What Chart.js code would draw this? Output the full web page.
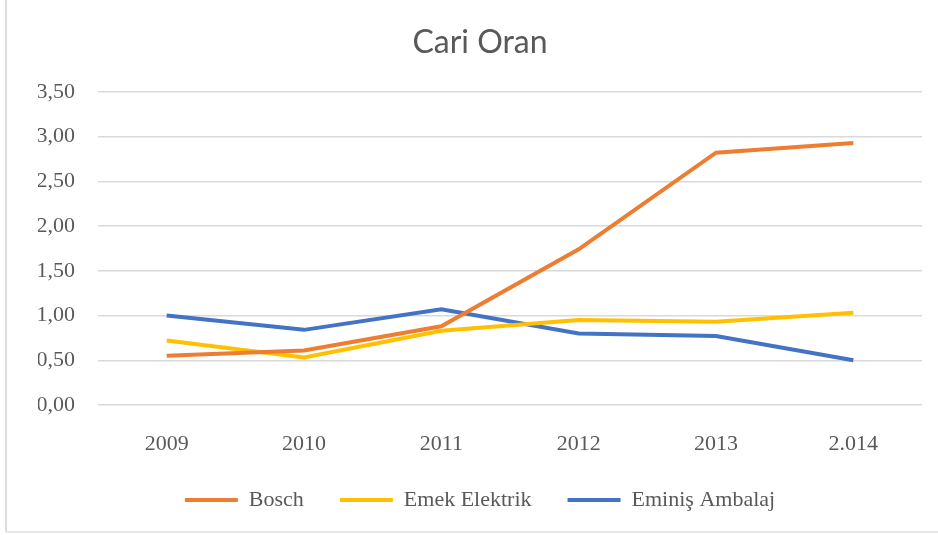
<!DOCTYPE html>
<html>
<head>
<meta charset="utf-8">
<script src="https://cdn.jsdelivr.net/npm/chart.js@4.4.1/dist/chart.umd.min.js"></script>
<style>
  html, body { margin: 0; padding: 0; background: #fff; }
  #wrap { position: relative; width: 938px; height: 535px; }
  #c { position: absolute; left: 0; top: 0; }
  #edgeL { position: absolute; left: 5px; top: 0; width: 2px; height: 533px; background: #dcdcdc; }
  #edgeB { position: absolute; left: 5px; top: 531px; width: 933px; height: 2px; background: #e8e8e8; }
</style>
</head>
<body>
<div id="wrap">
  <canvas id="c" width="938" height="535"></canvas>
  <div id="edgeL"></div>
  <div id="edgeB"></div>
</div>
<script>
const years = ["2009", "2010", "2011", "2012", "2013", "2.014"];
const bosch = [0.55, 0.61, 0.88, 1.74, 2.82, 2.93];
const emekElektrik = [0.72, 0.53, 0.83, 0.95, 0.93, 1.03];
const eminisAmbalaj = [1.00, 0.84, 1.07, 0.80, 0.77, 0.50];
const seriesNames = ["Bosch", "Emek Elektrik", "Eminiş Ambalaj"];
const yTicks = [0, 0.5, 1, 1.5, 2, 2.5, 3, 3.5];

const colors = ["#ED7D31", "#FFC000", "#4472C4"];
const serif = "'Liberation Serif', 'Times New Roman', serif";

function ds(label, data, color) {
  return {
    label: label,
    data: data,
    borderColor: color,
    backgroundColor: color,
    borderWidth: 4,
    pointRadius: 0,
    pointHoverRadius: 0,
    tension: 0,
    fill: false,
    pointStyle: 'line'
  };
}

new Chart(document.getElementById('c'), {
  type: 'line',
  data: {
    labels: years,
    datasets: [
      ds(seriesNames[0], bosch, colors[0]),
      ds(seriesNames[1], emekElektrik, colors[1]),
      ds(seriesNames[2], eminisAmbalaj, colors[2])
    ]
  },
  options: {
    responsive: false,
    animation: false,
    layout: { padding: { left: 38, right: 16, top: 23, bottom: 14 } },
    plugins: {
      title: {
        display: true,
        text: 'Cari Oran',
        color: '#595959',
        font: { family: "Lato, 'Open Sans', sans-serif", size: 32, weight: 'normal' },
        padding: { top: 0, bottom: 30.5 }
      },
      legend: {
        position: 'bottom',
        labels: {
          usePointStyle: true,
          pointStyleWidth: 53,
          boxHeight: 22,
          padding: 36,
          color: '#595959',
          font: { family: serif, size: 22 }
        }
      },
      tooltip: { enabled: false }
    },
    scales: {
      x: {
        offset: true,
        grid: { display: false, drawTicks: false },
        border: { display: false },
        ticks: { color: '#595959', font: { family: serif, size: 22 }, padding: 26, maxRotation: 0 },
        afterFit: (axis) => { axis.height = 48; }
      },
      y: {
        min: 0,
        max: 3.5,
        afterBuildTicks: (axis) => { axis.ticks = yTicks.map(v => ({ value: v })); },
        grid: { color: '#d9d9d9', lineWidth: 1.5, drawTicks: false },
        border: { display: false },
        ticks: {
          color: '#595959',
          font: { family: serif, size: 22 },
          padding: 23,
          callback: (v) => Number(v).toFixed(2).replace('.', ',')
        },
        afterFit: (axis) => { axis.width = 60; }
      }
    }
  }
});
</script>
</body>
</html>
